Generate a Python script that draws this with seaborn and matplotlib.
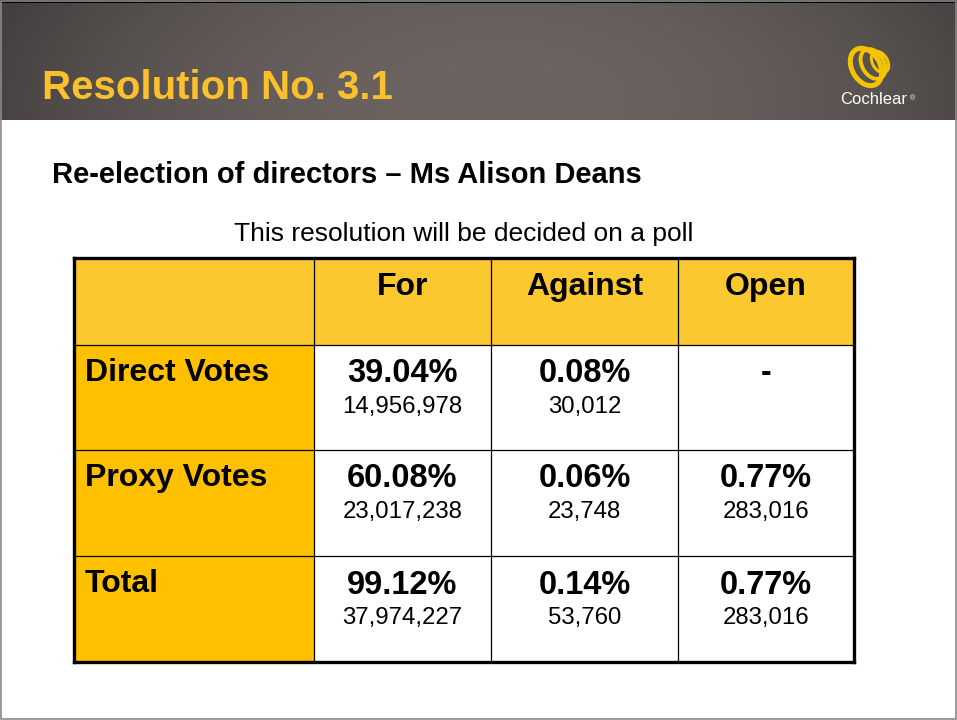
import numpy as np
import seaborn as sns
import matplotlib.pyplot as plt
from matplotlib.colors import ListedColormap
from matplotlib.patches import Ellipse, Rectangle

sns.set_theme(style="white")
plt.rcParams['font.family'] = ['Liberation Sans', 'DejaVu Sans']
plt.rcParams['text.color'] = 'black'

# data
title = "Resolution No. 3.1"
subtitle = "Re-election of directors \u2013 Ms Alison Deans"
note = "This resolution will be decided on a poll"
columns = ["For", "Against", "Open"]
rows = ["Direct Votes", "Proxy Votes", "Total"]
percents = [[39.04, 0.08, None],
            [60.08, 0.06, 0.77],
            [99.12, 0.14, 0.77]]
votes = [[14956978, 30012, None],
         [23017238, 23748, 283016],
         [37974227, 53760, 283016]]

# layout (pixels)
W, H = 957, 720
tbl_x0, tbl_y0 = 74, 258
col_w = [240, 177, 187, 176]
row_h = [87, 105, 106, 106]
header_col = "#FCC830"
label_col = "#FFC000"
yellow = "#FBC02D"

fig = plt.figure(figsize=(W / 100, H / 100), dpi=100)

# background / header band
bg = fig.add_axes([0, 0, 1, 1])
bg.set_xlim(0, W)
bg.set_ylim(H, 0)
bg.axis("off")
yy, xx = np.mgrid[0:120, 0:W]
t = np.clip(1 - ((xx - 500) / 560.0) ** 2 - ((yy - 100) / 260.0) ** 2, 0, 1)
dark = np.array([0x3f, 0x3b, 0x3a]) / 255
light = np.array([0x6c, 0x64, 0x61]) / 255
grad = dark + (light - dark) * t[..., None]
grad[:3] = 0
bg.imshow(grad, extent=[0, W, 120, 0], aspect="auto", zorder=0)
bg.add_patch(Rectangle((0.5, 0.5), W - 2, H - 2, fill=False, ec="#8a8a8a", lw=1.2, zorder=1))

bg.text(42, 88, title, color=yellow, fontsize=29, fontweight="bold", va="center", ha="left")
bg.text(52, 175, subtitle, color="black", fontsize=21, fontweight="bold", va="center", ha="left")
bg.text(464, 234, note, color="black", fontsize=19, va="center", ha="center")

# logo
for cx, cy, w, h, lw in [(866, 67, 28, 40, 3.6), (873, 64, 22, 32, 2.8), (880, 62, 15, 23, 2.2)]:
    bg.add_patch(Ellipse((cx, cy), w, h, angle=-30, fill=False, ec="#F5C400", lw=lw, zorder=3))
bg.text(874, 100, "Cochlear", color="white", fontsize=12, ha="center", va="center")
bg.text(913, 99, "\u00ae", color="white", fontsize=5, ha="center", va="center")

# table cells via heatmap on a pixel grid
cat = np.full((4, 4), 2)
cat[0, :] = 0
cat[1:, 0] = 1
grid = np.repeat(np.repeat(cat, row_h, axis=0), col_w, axis=1)
tw, th = sum(col_w), sum(row_h)
ax = fig.add_axes([tbl_x0 / W, 1 - (tbl_y0 + th) / H, tw / W, th / H])
sns.heatmap(grid, ax=ax, cmap=ListedColormap([header_col, label_col, "white"]),
            vmin=-0.5, vmax=2.5, cbar=False, xticklabels=False, yticklabels=False,
            rasterized=True)
x_edges = np.concatenate([[0], np.cumsum(col_w)])
y_edges = np.concatenate([[0], np.cumsum(row_h)])
for x in x_edges[1:-1]:
    ax.axvline(x, color="black", lw=0.9)
for y in y_edges[1:-1]:
    ax.axhline(y, color="black", lw=0.9)
for s in ax.spines.values():
    s.set_visible(True)
    s.set_color("black")
    s.set_linewidth(2.4)

x_mid = (x_edges[:-1] + x_edges[1:]) / 2
for j, c in enumerate(columns):
    ax.text(x_mid[j + 1], 29, c, fontsize=23, fontweight="bold", ha="center", va="center")
for i, r in enumerate(rows):
    top = y_edges[i + 1]
    ax.text(11, top + 28, r, fontsize=23, fontweight="bold", ha="left", va="center")
    for j in range(len(columns)):
        p, v = percents[i][j], votes[i][j]
        if p is None:
            ax.text(x_mid[j + 1], top + 28, "-", fontsize=23, fontweight="bold", ha="center", va="center")
            continue
        ax.text(x_mid[j + 1], top + 29, f"{p:.2f}%", fontsize=23.5, fontweight="bold", ha="center", va="center")
        ax.text(x_mid[j + 1], top + 62, f"{v:,}", fontsize=17.3, ha="center", va="center")

fig.savefig("out.png", dpi=100)
